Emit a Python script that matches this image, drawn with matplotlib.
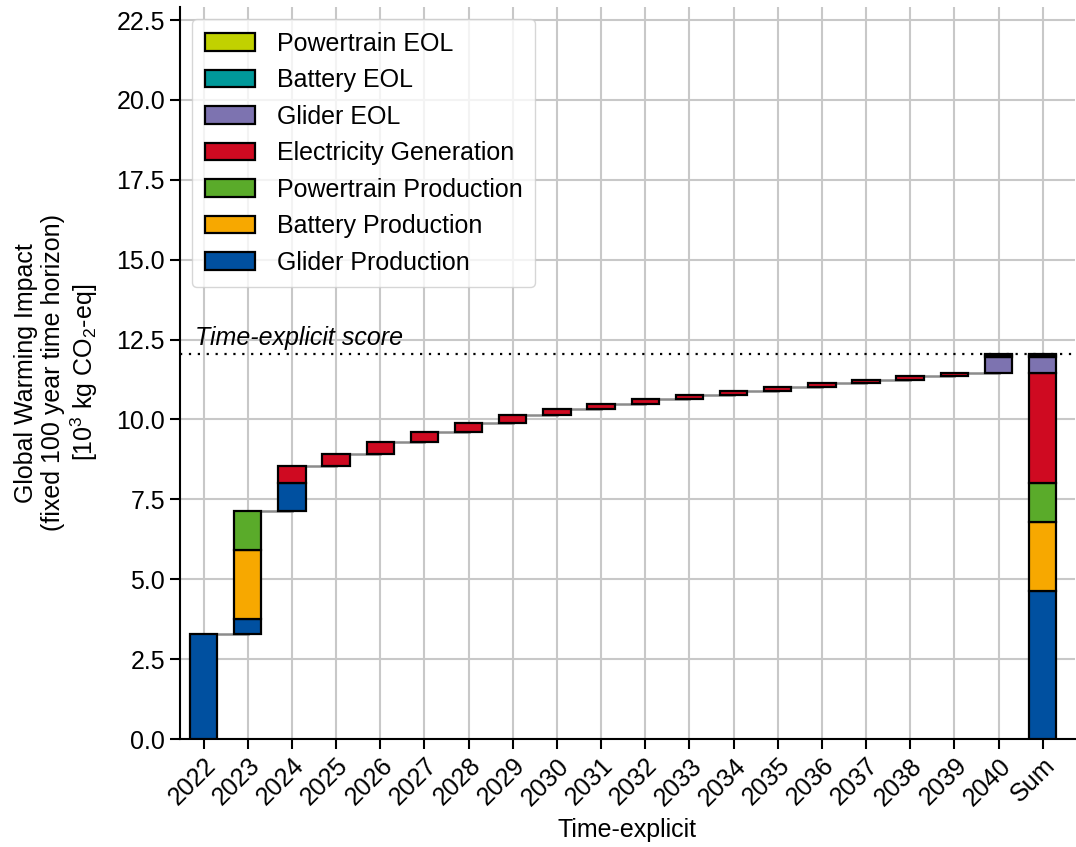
import matplotlib
matplotlib.use("Agg")
import matplotlib.pyplot as plt
import numpy as np

plt.rcParams["font.family"] = ["Liberation Sans", "DejaVu Sans"]
plt.rcParams["font.size"] = 18

years = [str(y) for y in range(2022, 2041)]
categories = ["Glider Production", "Battery Production", "Powertrain Production",
              "Electricity Generation", "Glider EOL", "Battery EOL", "Powertrain EOL"]
colors = ["#0050a0", "#f7a800", "#5aab2a", "#cf0a21", "#7d73b0", "#00999a", "#c1d100"]

# contributions per year (10^3 kg CO2-eq), one list per category
glider_prod = [3.30, 0.47, 0.87] + [0] * 16
battery_prod = [0, 2.15] + [0] * 17
powertrain_prod = [0, 1.22] + [0] * 17
electricity = [0, 0, 0.52, 0.40, 0.37, 0.32, 0.28, 0.23, 0.19, 0.16, 0.15,
               0.14, 0.13, 0.12, 0.12, 0.11, 0.11, 0.10, 0]
glider_eol = [0] * 18 + [0.50]
battery_eol = [0] * 18 + [0.07]
powertrain_eol = [0] * 18 + [0.03]

data = np.array([glider_prod, battery_prod, powertrain_prod, electricity,
                 glider_eol, battery_eol, powertrain_eol])

fig = plt.figure(figsize=(10.76, 8.47), dpi=100)
ax = fig.add_axes([0.167, 0.1275, 0.832, 0.8645])

n = len(years)
x = np.arange(n + 1)
width = 0.62

# waterfall for the yearly columns
level = 0.0
tops = []
for i in range(n):
    for k in range(len(categories)):
        v = data[k, i]
        if v > 0:
            ax.bar(x[i], v, width, bottom=level, color=colors[k],
                   edgecolor="black", linewidth=1.6, zorder=3)
            level += v
    tops.append(level)

# grey connectors between columns
for i in range(n - 1):
    ax.plot([x[i], x[i + 1]], [tops[i], tops[i]], color="#8c8c8c",
            linewidth=1.8, zorder=2)

# sum column
handles = []
level = 0.0
totals = data.sum(axis=1)
for k in range(len(categories)):
    b = ax.bar(x[n], totals[k], width, bottom=level, color=colors[k],
               edgecolor="black", linewidth=1.6, zorder=3, label=categories[k])
    handles.append(b)
    level += totals[k]
score = level

ax.axhline(score, color="black", linestyle=(0, (1, 3)), linewidth=1.6, zorder=4)
ax.text(-0.2, score + 0.12, "Time-explicit score", style="italic",
        fontsize=18, va="bottom", ha="left")

ax.set_xticks(x)
ax.set_xticklabels(years + ["Sum"], rotation=45, ha="right",
                   rotation_mode="anchor")
ax.set_xlim(-0.54, n + 0.73)
ax.set_ylim(0, 1.9 * score)
ax.set_yticks(np.arange(0, 23, 2.5))
ax.grid(True, color="#c8c8c8", linewidth=1.5, zorder=0)
ax.set_axisbelow(True)
ax.spines["top"].set_visible(False)
ax.spines["right"].set_visible(False)
ax.spines["left"].set_linewidth(1.5)
ax.spines["bottom"].set_linewidth(1.5)
ax.tick_params(width=1.5, length=7, labelsize=18)

ax.set_xlabel("Time-explicit", fontsize=18, labelpad=6)
ax.set_ylabel("Global Warming Impact\n(fixed 100 year time horizon)\n"
              r"[$\mathregular{10^3}$ kg CO$\mathregular{_2}$-eq]", fontsize=18,
              linespacing=1.15, labelpad=12)

ax.legend(handles[::-1], categories[::-1], loc="upper left",
          fontsize=18, handlelength=2.0, borderpad=0.5, labelspacing=0.5,
          handletextpad=0.9)

fig.savefig("out.png", dpi=100)
